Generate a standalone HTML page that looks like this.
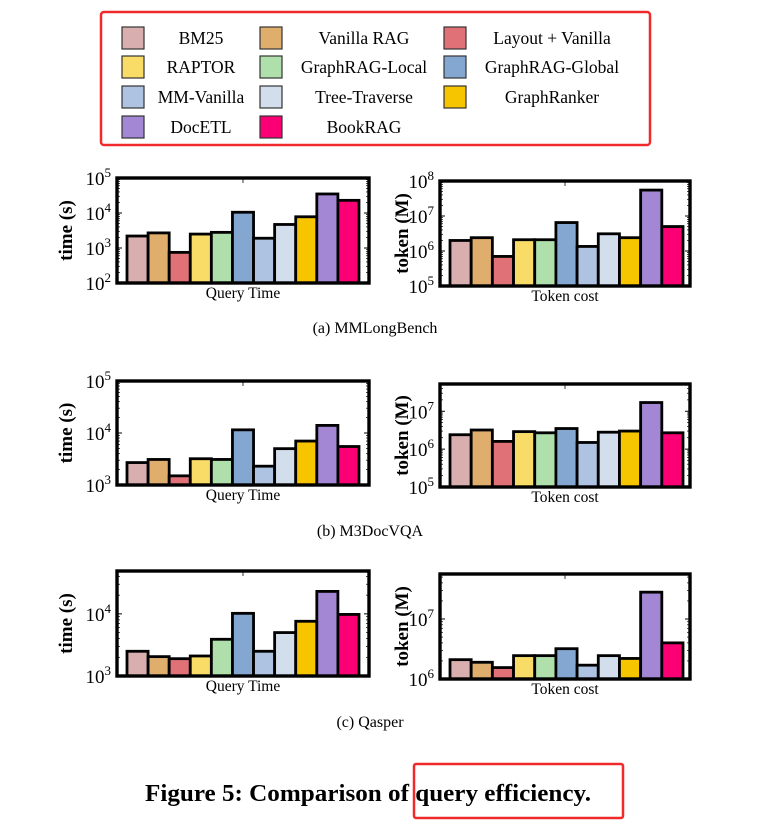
<!DOCTYPE html>
<html><head><meta charset="utf-8"><style>
body{margin:0;background:#fff;width:783px;height:823px;overflow:hidden}
svg{font-family:"Liberation Serif",serif}
</style></head><body>
<svg id="s" width="783" height="823" viewBox="0 0 783 823" xmlns="http://www.w3.org/2000/svg">
<rect x="101" y="12" width="549" height="133" rx="3" fill="none" stroke="#f02a2a" stroke-width="2.5"/>
<g id="legend"></g>
<g id="charts"></g>
<text x="375" y="333" font-size="16" text-anchor="middle">(a)  MMLongBench</text>
<text x="370" y="536" font-size="16" text-anchor="middle">(b)  M3DocVQA</text>
<text x="370" y="727" font-size="16" text-anchor="middle">(c)  Qasper</text>
<text x="368" y="801" font-size="24" font-weight="bold" text-anchor="middle" textLength="446" lengthAdjust="spacingAndGlyphs">Figure 5: Comparison of query efficiency.</text>
<rect x="414" y="764" width="209" height="54" rx="2" fill="none" stroke="#f02a2a" stroke-width="2.5"/>
</svg>
<script>
const methods=["BM25","Vanilla RAG","Layout + Vanilla","RAPTOR","GraphRAG-Local","GraphRAG-Global","MM-Vanilla","Tree-Traverse","GraphRanker","DocETL","BookRAG"];
const colors=["#d8aeae","#dfae6c","#df7177","#f9dc68","#afdfaa","#84a7d2","#aec3e2","#d2deec","#f7c400","#a386d4","#fb0075"];
const timeA=[2200,2700,750,2500,2800,10500,1900,4700,7800,35000,23000];
const tokenA=[2.0e6,2.4e6,7e5,2.1e6,2.1e6,6.5e6,1.35e6,3.1e6,2.4e6,5.5e7,5.0e6];
const timeB=[2700,3100,1500,3200,3100,11500,2300,5000,7000,14000,5500];
const tokenB=[2.4e6,3.2e6,1.6e6,2.9e6,2.7e6,3.5e6,1.5e6,2.8e6,3.0e6,1.7e7,2.7e6];
const timeC=[2500,2050,1900,2100,3900,10200,2500,5000,7600,23000,9800];
const tokenC=[2.1e6,1.9e6,1.55e6,2.45e6,2.45e6,3.2e6,1.7e6,2.45e6,2.2e6,2.8e7,4.0e6];
const NS="http://www.w3.org/2000/svg";
const svg=document.getElementById('s');
function mk(tag,attrs,parent){const e=document.createElementNS(NS,tag);for(const k in attrs)e.setAttribute(k,attrs[k]);(parent||svg).appendChild(e);return e;}
const lg=document.getElementById('legend');
const colSw=[122,260,444],colTx=[201,364,552],rowY=[38,67,97,127];
methods.forEach((m,i)=>{const r=Math.floor(i/3),c=i%3;
 const sw=mk('rect',{x:colSw[c],y:rowY[r]-11,width:22,height:22,fill:colors[i],stroke:'#333','stroke-width':1.2},lg);
 
 
 const t=mk('text',{x:colTx[c],y:rowY[r]+6,'font-size':17.5,'text-anchor':'middle'},lg);t.textContent=m;
 
 
});
const charts=document.getElementById('charts');
function chart(o){
 const g=mk('g',{},charts);
 
 
 const y=v=>o.bot-(Math.log10(v)-o.lmin)/(o.lmax-o.lmin)*(o.bot-o.top);
 const bw=(o.bx1-o.bx0)/o.vals.length;
 o.vals.forEach((v,i)=>{const yy=y(v);
  const b=mk('rect',{x:o.bx0+i*bw,y:yy,width:bw,height:o.bot-yy,fill:colors[i],stroke:'#000','stroke-width':2.8},g);
  
  
 });
 for(let d=Math.floor(o.lmin);d<Math.ceil(o.lmax);d++)for(let k=2;k<10;k++){const lv=d+Math.log10(k);if(lv<=o.lmin||lv>=o.lmax)continue;const yy=y(Math.pow(10,lv));
  mk('line',{x1:o.x0,x2:o.x0+3,y1:yy,y2:yy,stroke:'#000','stroke-width':0.7},g);
  mk('line',{x1:o.x1-3,x2:o.x1,y1:yy,y2:yy,stroke:'#000','stroke-width':0.7},g);}
 o.ticks.forEach(e=>{const yy=y(Math.pow(10,e));
  mk('line',{x1:o.x0,x2:o.x0+5,y1:yy,y2:yy,stroke:'#000','stroke-width':1},g);
  mk('line',{x1:o.x1-5,x2:o.x1,y1:yy,y2:yy,stroke:'#000','stroke-width':1},g);
  const t=mk('text',{x:o.x0-6,y:yy+7,'font-size':19,'text-anchor':'end'},g);
  
  
  t.textContent='10';const s=mk('tspan',{dy:-8,'font-size':13},t);s.textContent=e;});
 mk('line',{x1:(o.x0+o.x1)/2,x2:(o.x0+o.x1)/2,y1:o.top,y2:o.top+5,stroke:'#000','stroke-width':0.8},g);
 const f=mk('rect',{x:o.x0,y:o.top,width:o.x1-o.x0,height:o.bot-o.top,fill:'none',stroke:'#000','stroke-width':3.4},g);
 
 
 const xl=mk('text',{x:(o.x0+o.x1)/2,y:o.bot+15,'font-size':15.5,'text-anchor':'middle'},g);xl.textContent=o.xlab;
 
 
 const cy=(o.top+o.bot)/2;
 const yl=mk('text',{x:o.ylx,y:cy,'font-size':19,'font-weight':'bold','text-anchor':'middle',transform:`rotate(-90 ${o.ylx} ${cy})`},g);yl.textContent=o.ylab;
 
 
}
const L={x0:117,x1:369,bx0:127,bx1:359,xlab:'Query Time',ylab:'time (s)',ylx:72};
const R={x0:440,x1:690,bx0:450,bx1:683,xlab:'Token cost',ylab:'token (M)',ylx:408};
chart({...L,name:'chart-a-time',vals:timeA,top:178,bot:283,lmin:2,lmax:5,ticks:[2,3,4,5]});
chart({...R,name:'chart-a-token',vals:tokenA,top:181,bot:286,lmin:5,lmax:8,ticks:[5,6,7,8]});
chart({...L,name:'chart-b-time',vals:timeB,top:381,bot:485,lmin:3,lmax:5,ticks:[3,4,5]});
chart({...R,name:'chart-b-token',vals:tokenB,top:384,bot:487,lmin:5,lmax:7.72,ticks:[5,6,7]});
chart({...L,name:'chart-c-time',vals:timeC,top:571,bot:676,lmin:3,lmax:4.69,ticks:[3,4]});
chart({...R,name:'chart-c-token',vals:tokenC,top:574,bot:679,lmin:6,lmax:7.75,ticks:[6,7]});
</script>
</body></html>
